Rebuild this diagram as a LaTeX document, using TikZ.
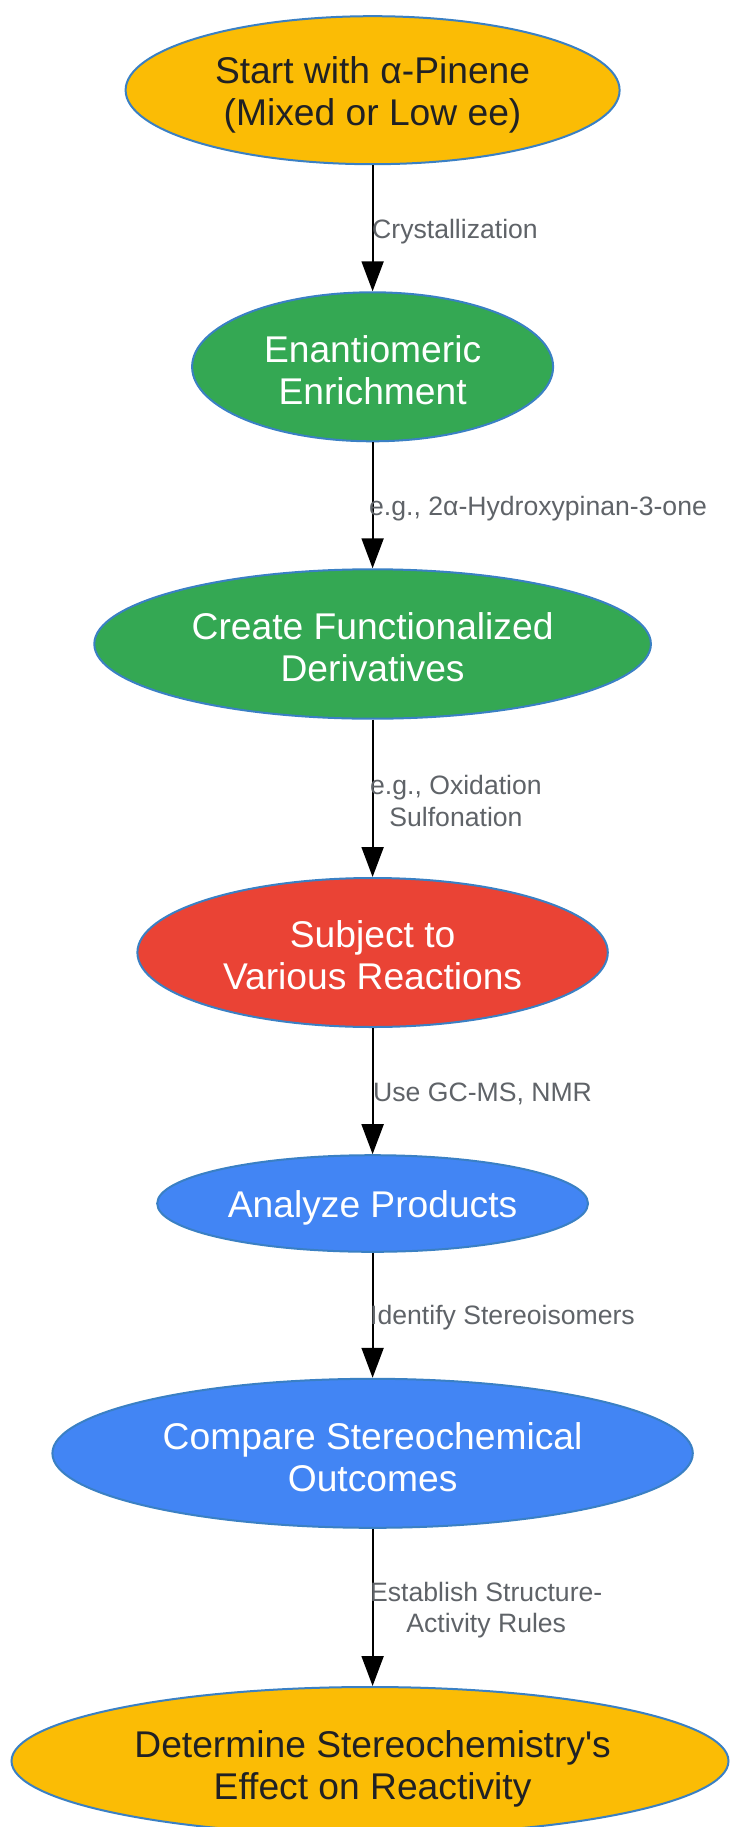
\documentclass[tikz,border=0pt]{standalone}
\usepackage{fontspec}
\setmainfont{Liberation Sans}[Ligatures=TeXOff]
\usetikzlibrary{shapes.geometric,arrows.meta}
\definecolor{ygold}{HTML}{FBBC05}
\definecolor{ggreen}{HTML}{34A853}
\definecolor{rred}{HTML}{EA4335}
\definecolor{bblue}{HTML}{4285F4}
\definecolor{edgeblue}{HTML}{3A80C4}
\definecolor{darktext}{HTML}{202124}
\definecolor{labgrey}{HTML}{5F6368}
\tikzset{
  flownode/.style={ellipse, draw=edgeblue, line width=2pt, inner sep=0pt},
  darkfill/.style={flownode, fill=ygold},
  greenfill/.style={flownode, fill=ggreen},
  redfill/.style={flownode, fill=rred},
  bluefill/.style={flownode, fill=bblue},
  nodetext/.style={inner sep=0pt, align=center, font=\fontsize{37.2}{42}\selectfont},
  darktxt/.style={nodetext, text=darktext},
  whitetxt/.style={nodetext, text=white},
  edgelabel/.style={anchor=west, inner sep=0pt, align=center, text=labgrey,
    font=\fontsize{26.6}{31.4}\selectfont},
  flowarrow/.style={draw=black, line width=2pt, -{Triangle[width=22pt,length=30pt]}}
}
\begin{document}
\begin{tikzpicture}[x=1pt,y=-1pt]
\fill[white] (0,0) rectangle (729,1827);
\useasboundingbox (0,0) rectangle (729,1827);
\node[darkfill, minimum width=494pt, minimum height=148pt] (a) at (372.6,90.2) {};
\node[greenfill, minimum width=361pt, minimum height=149pt] (b) at (372.6,366.8) {};
\node[greenfill, minimum width=556.6pt, minimum height=149.4pt] (c) at (372.6,644) {};
\node[redfill, minimum width=470.4pt, minimum height=149pt] (d) at (372.6,952.5) {};
\node[bluefill, minimum width=430.8pt, minimum height=96.6pt] (e) at (372.6,1203.5) {};
\node[bluefill, minimum width=640.4pt, minimum height=149pt] (f) at (372.6,1453.3) {};
\node[darkfill, minimum width=717pt, minimum height=148pt] (g) at (370,1761) {};

\node[darktxt] (at) at ([yshift=-4.5pt]a.center) {Start with α-Pinene\\(Mixed or Low ee)};
\node[whitetxt] (bt) at ([yshift=-3pt]b.center) {Enantiomeric\\Enrichment};
\node[whitetxt] (ct) at ([yshift=-3pt]c.center) {Create Functionalized\\Derivatives};
\node[whitetxt] (dt) at ([yshift=-3pt]d.center) {Subject to\\Various Reactions};
\node[whitetxt] (et) at ([yshift=-4pt]e.center) {Analyze Products};
\node[whitetxt] (ft) at ([yshift=-3.5pt]f.center) {Compare Stereochemical\\Outcomes};
\node[darktxt] (gt) at ([yshift=-8pt,xshift=2.6pt]g.center) {Determine Stereochemistry's\\Effect on Reactivity};

\draw[flowarrow] (a.south) -- (b.north);
\draw[flowarrow] (b.south) -- (c.north);
\draw[flowarrow] (c.south) -- (d.north);
\draw[flowarrow] (d.south) -- (e.north);
\draw[flowarrow] (e.south) -- (f.north);
\draw[flowarrow] (f.south) -- (g.north -| a.south);

\node[edgelabel] (l1) at (372,232) {Crystallization};
\node[edgelabel] (l2) at (369,509) {e.g., 2α-Hydroxypinan-3-one};
\node[edgelabel] (l3) at (370,801) {e.g., Oxidation\\Sulfonation};
\node[edgelabel] (l4) at (373,1093.6) {Use GC-MS, NMR};
\node[edgelabel] (l5) at (370,1317.5) {Identify Stereoisomers};
\node[edgelabel] (l6) at (370,1610) {Establish Structure-\\Activity Rules};
\end{tikzpicture}
\end{document}
